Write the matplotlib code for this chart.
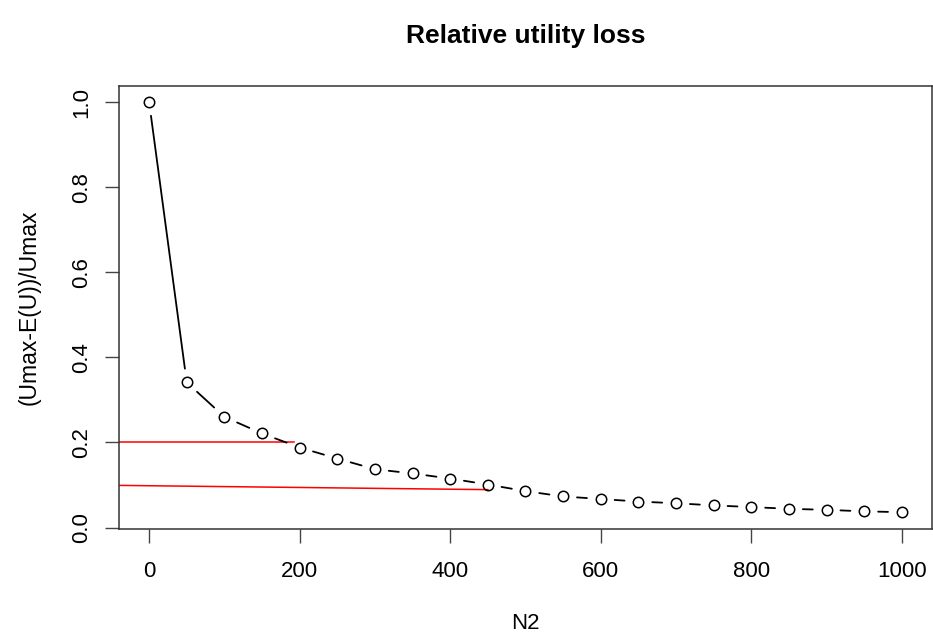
import matplotlib
matplotlib.use("Agg")
import matplotlib.pyplot as plt

# relative utility loss vs N2
n2 = [0, 50, 100, 150, 200, 250, 300, 350, 400, 450, 500,
      550, 600, 650, 700, 750, 800, 850, 900, 950, 1000]
loss = [1.0, 0.341, 0.260, 0.221, 0.188, 0.162, 0.137, 0.127, 0.115, 0.101, 0.0855,
        0.073, 0.067, 0.061, 0.057, 0.052, 0.048, 0.044, 0.0415, 0.038, 0.036]

# red reference lines
ref1_x = [-40, 192]
ref1_y = [0.2, 0.2]
ref2_x = [-40, 450]
ref2_y = [0.099, 0.089]

plt.rcParams['font.family'] = ['Liberation Sans', 'DejaVu Sans']

fig = plt.figure(figsize=(9.33, 6.39), dpi=100)
ax = fig.add_axes([119 / 933, 110.4 / 639, 813 / 933, 443 / 639])

# R-style 4% padding
xr = max(n2) - min(n2)
yr = max(loss) - min(loss)
ax.set_xlim(min(n2) - 0.04 * xr, max(n2) + 0.04 * xr)
ax.set_ylim(min(loss) - 0.04 * yr, max(loss) + 0.04 * yr)

ax.plot(ref1_x, ref1_y, color='red', lw=1.1, zorder=2)
ax.plot(ref2_x, ref2_y, color='red', lw=1.1, zorder=2)

# type="b": segments with gaps around points
for i in range(len(n2) - 1):
    ax.annotate('', xy=(n2[i + 1], loss[i + 1]), xytext=(n2[i], loss[i]),
                arrowprops=dict(arrowstyle='-', color='black', lw=1.3,
                                shrinkA=10, shrinkB=10))
ax.plot(n2, loss, linestyle='none', marker='o', markersize=7.5,
        markerfacecolor='none', markeredgecolor='black', markeredgewidth=1.1, zorder=3)

ax.set_xticks([0, 200, 400, 600, 800, 1000])
ax.set_yticks([0.0, 0.2, 0.4, 0.6, 0.8, 1.0])
ax.set_yticklabels(['0.0', '0.2', '0.4', '0.6', '0.8', '1.0'], rotation=90, va='center')
ax.tick_params(axis='both', length=10, width=1.0, color='#444444', labelsize=16)
ax.tick_params(axis='x', pad=13)
ax.tick_params(axis='y', pad=9)
for s in ax.spines.values():
    s.set_linewidth(1.1)
    s.set_color('#333333')

ax.set_title('Relative utility loss', fontsize=19, fontweight='bold', pad=31)
ax.set_xlabel('N2', fontsize=16, labelpad=23)
ax.set_ylabel('(Umax-E(U))/Umax', fontsize=16.5, labelpad=22)

fig.savefig('out.png', dpi=100)
